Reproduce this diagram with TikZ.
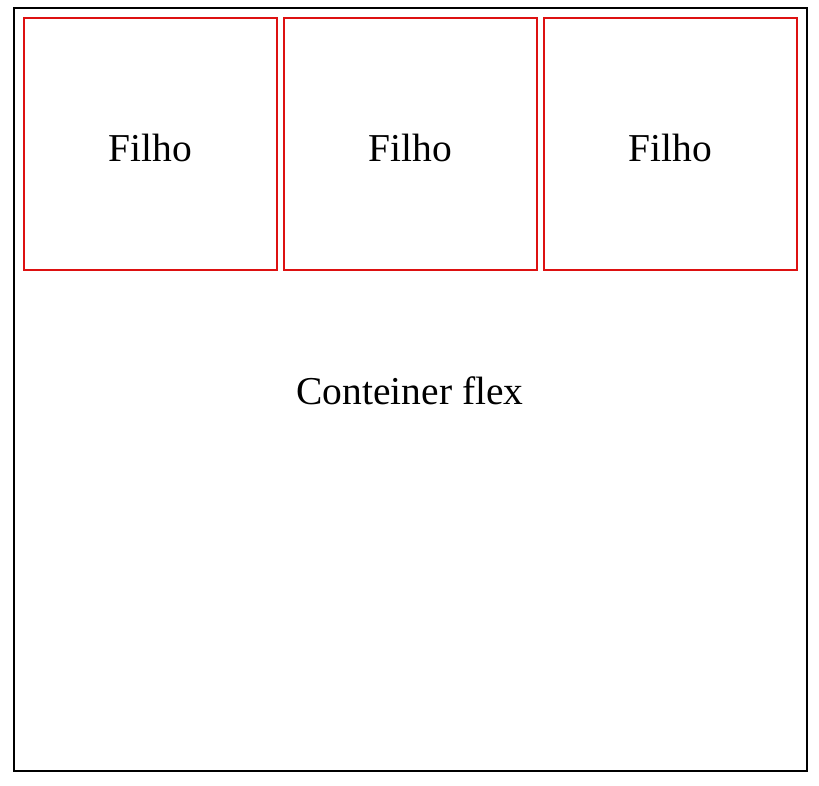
\documentclass[tikz,border=0pt]{standalone}
\usepackage{fontspec}
\setmainfont{Liberation Serif}
\usepackage{tikz}

\begin{document}
\begin{tikzpicture}[x=1pt,y=-1pt]
      \tikzstyle{conteiner} = [draw=black, line width=2pt, minimum width=793pt, minimum height=763pt, inner sep=0pt]
      \tikzstyle{filho} = [draw={rgb,255:red,221;green,17;blue,17}, line width=2pt, minimum width=253pt, minimum height=252pt, inner sep=0pt]
      \tikzstyle{rotulo} = [font=\fontsize{39.5}{40}\selectfont]
      \useasboundingbox (0,0) rectangle (819,785);
      \node[conteiner](flex) at (410.5,389.5) {};
      \node[rotulo](tflex) at (410,391) {Conteiner flex};
      \foreach \x in {0,...,2}{
        \node[filho](f\x) at (150.5+260*\x,144) {};
        \node[rotulo](t\x) at ([yshift=-3.5pt]f\x.center) {Filho};
      }
    \end{tikzpicture}
\end{document}
